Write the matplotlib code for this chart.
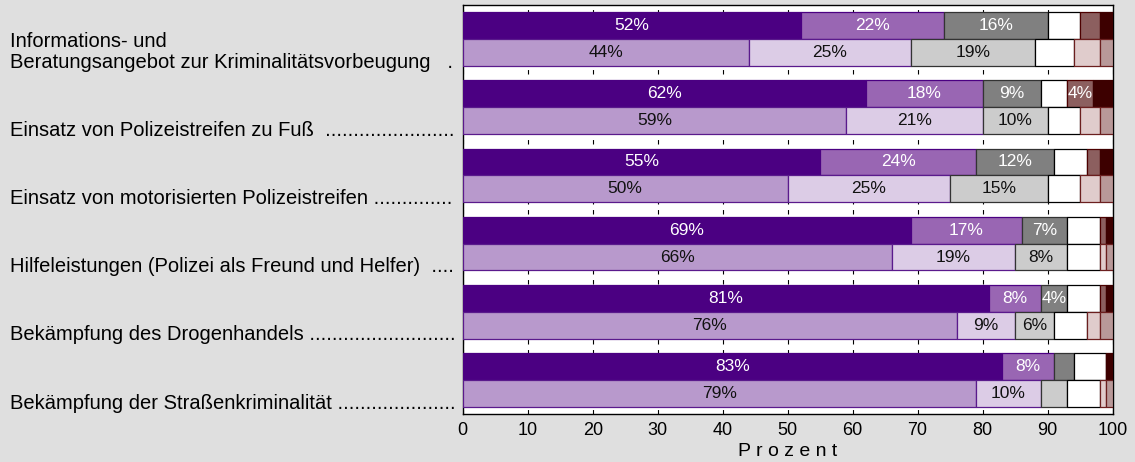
import matplotlib.pyplot as plt
import numpy as np
from matplotlib.transforms import blended_transform_factory

plt.rcParams['font.family'] = ['Liberation Sans', 'DejaVu Sans']

labels = [
    "Informations- und\nBeratungsangebot zur Kriminalitätsvorbeugung   .",
    "Einsatz von Polizeistreifen zu Fuß  .......................",
    "Einsatz von motorisierten Polizeistreifen ..............",
    "Hilfeleistungen (Polizei als Freund und Helfer)  ....",
    "Bekämpfung des Drogenhandels ..........................",
    "Bekämpfung der Straßenkriminalität .....................",
]

# top bar of each pair (dark colours) and bottom bar (light colours)
top_vals = [
    [52, 22, 16, 5, 3, 2],
    [62, 18, 9, 4, 4, 3],
    [55, 24, 12, 5, 2, 2],
    [69, 17, 7, 5, 1, 1],
    [81, 8, 4, 5, 1, 1],
    [83, 8, 3, 5, 0, 1],
]
bot_vals = [
    [44, 25, 19, 6, 4, 2],
    [59, 21, 10, 5, 3, 2],
    [50, 25, 15, 5, 3, 2],
    [66, 19, 8, 5, 1, 1],
    [76, 9, 6, 5, 2, 2],
    [79, 10, 4, 5, 1, 1],
]
# segments without a printed value (group, bar, segment)
no_label = [(0, 1, 4), (5, 1, 2)]

top_colors = ['#4b0082', '#9966b3', '#808080', '#ffffff', '#8c5f5f', '#3d0000']
top_edges = ['#4b0082', '#4b0082', '#333333', '#000000', '#4d0000', '#3d0000']
top_text = ['white', 'white', 'white', 'black', 'white', 'white']
bot_colors = ['#b899cc', '#dccce6', '#cccccc', '#ffffff', '#e0cccc', '#b89999']
bot_edges = ['#5a1a8c', '#5a1a8c', '#333333', '#000000', '#6b1f1f', '#6b1f1f']
bot_text = ['#111111'] * 6

fig = plt.figure(figsize=(11.35, 4.62), dpi=100, facecolor='#dfdfdf')
ax = fig.add_axes([0.4077, 0.1039, 0.5725, 0.8853])

h = 0.394
y = np.arange(len(labels))
for bar_i, (vals, cols, edges, tcols, off) in enumerate([
        (top_vals, top_colors, top_edges, top_text, -h / 2),
        (bot_vals, bot_colors, bot_edges, bot_text, h / 2)]):
    vals = np.array(vals)
    left = np.zeros(len(labels))
    for s in range(vals.shape[1]):
        w = vals[:, s]
        ax.barh(y + off, w, left=left, height=h, color=cols[s],
                edgecolor=edges[s], linewidth=0.9, zorder=3)
        for g in range(len(labels)):
            if w[g] >= 4 and s != 3 and (g, bar_i, s) not in no_label:
                ax.text(left[g] + w[g] / 2, y[g] + off, f"{w[g]}%",
                        ha='center', va='center', fontsize=12.5,
                        color=tcols[s], zorder=4)
        left = left + w

ax.set_xlim(0, 100)
ax.set_ylim(len(labels) - 0.5, -0.5)
ax.set_yticks([])
ax.set_xticks(np.arange(0, 101, 10))
ax.tick_params(axis='x', labelsize=13, length=0, pad=6)
ax.xaxis.grid(True, color='black', linestyle=(0, (4, 5)), linewidth=0.8)
ax.set_axisbelow(True)
ax.set_xlabel("P r o z e n t", fontsize=14, labelpad=3)
for sp in ax.spines.values():
    sp.set_linewidth(1)

trans = blended_transform_factory(fig.transFigure, ax.transData)
for g, lab in enumerate(labels):
    lines = lab.split("\n")
    for k, line in enumerate(reversed(lines)):
        ax.text(10 / 1135, g + 0.42 - k * 0.31, line, transform=trans,
                ha='left', va='baseline', fontsize=14.5)

fig.savefig('out.png', dpi=100, facecolor=fig.get_facecolor())
